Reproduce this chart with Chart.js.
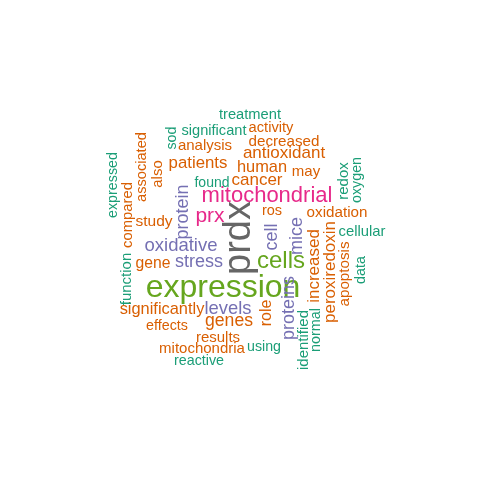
<!DOCTYPE html>
<html>
<head>
<meta charset="utf-8">
<script src="https://cdn.jsdelivr.net/npm/chart.js@4"></script>
<style>
  html, body { margin: 0; padding: 0; background: #fff; }
  #wrap { width: 480px; height: 480px; }
</style>
</head>
<body>
<div id="wrap"><canvas id="cloud"></canvas></div>
<script>
// palabras y su ubicacion en la nube (coordenadas del plano 0..480)
const words = ["prdx","expression","cells","mitochondrial","prx","oxidative","stress","levels","protein","proteins",
  "cell","mice","antioxidant","cancer","patients","human","genes","significantly","increased","peroxiredoxin",
  "role","decreased","analysis","may","ros","oxidation","study","gene","effects","results",
  "mitochondria","activity","associated","also","compared","apoptosis","treatment","significant","found","cellular",
  "reactive","using","expressed","sod","function","identified","normal","data","redox","oxygen"];
const xs = [240,223,281,267,210,181,199,228,183,289,
  272,297,284,257,198,262,229,162,314,330,
  267,284,205,306,272,337,154,153,167,218,
  202,271,142,158,128,345,250,214,212,362,
  199,264,113,172,127,304,316,361,344,357];
const ys = [238,288,261,196,216,246,262,309,212,308,
  237,236,153,180,163,167,321,309,266,272,
  313,142,146,172,211,213,222,264,326,338,
  349,128,167,174,215,274,115,131,183,232,
  361,347,185,138,279,340,330,270,181,180];
// peso de cada palabra (tamaño de letra)
const weights = [38,32,24,22,21,18.5,18,18.4,18,18,
  18,18,17,17,16.8,16.4,17.6,16.4,17,17,
  16,15.2,15,15,14.5,15.2,15.5,15.7,14.3,15,
  15,14.7,14.6,14.9,14.8,15.2,14.7,14.6,14,14.8,
  14.3,14.2,14.3,14.3,15,15,14.4,14.3,15,14.3];
// 1 = vertical
const rotated = [1,0,0,0,0,0,0,0,1,1,
  1,1,0,0,0,0,0,0,1,1,
  1,0,0,0,0,0,0,0,0,0,
  0,0,1,1,1,1,0,0,0,0,
  0,0,1,1,1,1,1,1,1,1];
// grupo de frecuencia -> color
const groups = [5,4,4,3,3,2,2,2,2,2,
  2,2,1,1,1,1,1,1,1,1,
  1,1,1,1,1,1,1,1,1,1,
  1,1,1,1,1,1,0,0,0,0,
  0,0,0,0,0,0,0,0,0,0];
const palette = ["#1B9E77","#D95F02","#7570B3","#E7298A","#66A61E","#666666"];

const wordPlugin = {
  id: "wordLabels",
  afterDatasetsDraw(chart) {
    const ctx = chart.ctx;
    const sx = chart.scales.x, sy = chart.scales.y;
    ctx.save();
    ctx.textAlign = "center";
    ctx.textBaseline = "middle";
    for (let i = 0; i < words.length; i++) {
      const px = sx.getPixelForValue(xs[i]);
      const py = sy.getPixelForValue(ys[i]);
      ctx.save();
      ctx.translate(px, py);
      if (rotated[i]) ctx.rotate(-Math.PI / 2);
      ctx.font = weights[i] + "px 'Liberation Sans', Arial, sans-serif";
      ctx.fillStyle = palette[groups[i]];
      ctx.fillText(words[i], 0, 0);
      ctx.restore();
    }
    ctx.restore();
  }
};

new Chart(document.getElementById("cloud"), {
  type: "scatter",
  data: {
    datasets: [{
      data: xs.map((x, i) => ({ x: x, y: ys[i] })),
      pointRadius: 0,
      showLine: false
    }]
  },
  options: {
    responsive: true,
    maintainAspectRatio: false,
    animation: false,
    layout: { padding: 0 },
    plugins: { legend: { display: false }, tooltip: { enabled: false } },
    scales: {
      x: { type: "linear", min: 0, max: 480, display: false },
      y: { type: "linear", min: 0, max: 480, reverse: true, display: false }
    }
  },
  plugins: [wordPlugin]
});
</script>
</body>
</html>
